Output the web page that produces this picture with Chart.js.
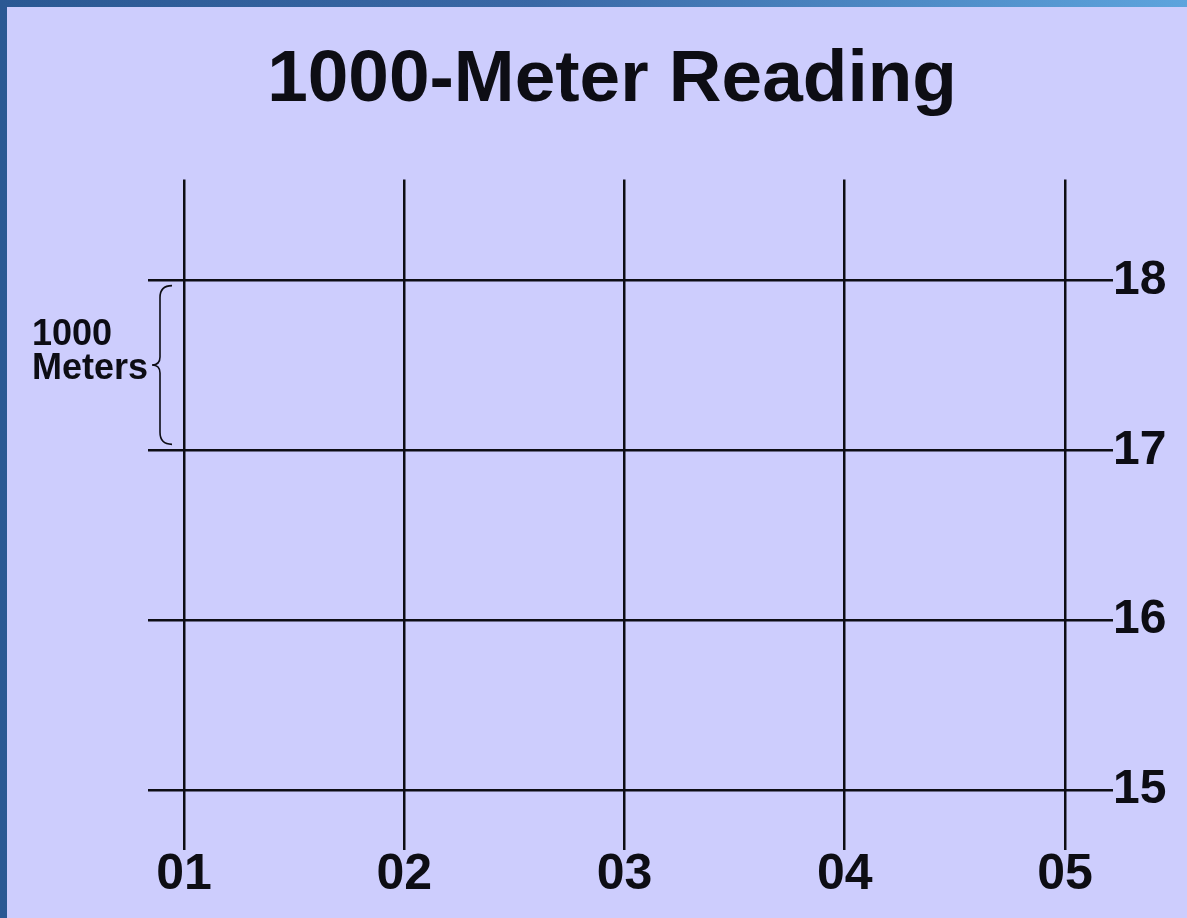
<!DOCTYPE html>
<html>
<head>
<meta charset="utf-8">
<script src="https://cdn.jsdelivr.net/npm/chart.js@4.4.1/dist/chart.umd.min.js"></script>
<style>
  html, body { margin: 0; padding: 0; }
  body {
    width: 1187px; height: 918px; overflow: hidden;
    background: linear-gradient(90deg, #2a5893 0%, #3a68a6 45%, #5da4dd 100%);
    position: relative;
  }
  #panel {
    position: absolute; left: 7px; top: 7px; width: 1180px; height: 911px;
    background: #cdcdfd;
  }
</style>
</head>
<body>
<div id="panel"><canvas id="canvas" width="1180" height="911"></canvas></div>
<script>
// lineas de la cuadricula (kilometros)
var eastings = [1, 2, 3, 4, 5];
var northings = [15, 16, 17, 18];
var eastingLabels = ['01', '02', '03', '04', '05'];
var northingLabels = ['15', '16', '17', '18'];
var titulo = '1000-Meter Reading';
var textoLlave = ['1000', 'Meters'];

var negro = '#0d0d14';
var fuente = '"Liberation Sans", Arial, Helvetica, sans-serif';

// llave "1000 Meters" entre la linea 17 y la 18
var llavePlugin = {
  id: 'llave',
  afterDraw: function(chart) {
    var ctx = chart.ctx;
    var y = chart.scales.y;
    var left = chart.chartArea.left;
    var top = y.getPixelForValue(18) + 5;
    var bottom = y.getPixelForValue(17) - 6;
    var mid = (top + bottom) / 2;
    var spine = left + 12, curl = left + 24, tip = left + 4;
    ctx.save();
    ctx.strokeStyle = negro;
    ctx.lineWidth = 1.6;
    ctx.beginPath();
    ctx.moveTo(curl, top);
    ctx.quadraticCurveTo(spine, top, spine, top + 12);
    ctx.lineTo(spine, mid - 8);
    ctx.quadraticCurveTo(spine, mid, tip, mid);
    ctx.quadraticCurveTo(spine, mid, spine, mid + 8);
    ctx.lineTo(spine, bottom - 12);
    ctx.quadraticCurveTo(spine, bottom, curl, bottom);
    ctx.stroke();
    ctx.fillStyle = negro;
    ctx.font = 'bold 36px ' + fuente;
    ctx.textAlign = 'left';
    ctx.textBaseline = 'alphabetic';
    ctx.fillText(textoLlave[0], 25, mid - 20);
    ctx.fillText(textoLlave[1], 25, mid + 14);
    ctx.restore();
  }
};

var ctx = document.getElementById('canvas').getContext('2d');
window.myChart = new Chart(ctx, {
  type: 'scatter',
  data: { datasets: [] },
  plugins: [llavePlugin],
  options: {
    responsive: false,
    animation: false,
    layout: { padding: { left: 30, right: 0, top: 0, bottom: 0 } },
    plugins: {
      legend: { display: false },
      tooltip: { enabled: false },
      title: {
        display: true,
        text: titulo,
        color: negro,
        font: { family: fuente, size: 73, weight: 'bold' },
        padding: { top: 30, bottom: 55 }
      }
    },
    scales: {
      x: {
        type: 'linear',
        min: 0.8366,
        max: 5.218,
        afterBuildTicks: function(s) { s.ticks = eastings.map(function(v) { return { value: v }; }); },
        afterFit: function(s) { s.height = 68; },
        border: { display: false },
        grid: { color: negro, lineWidth: 2.5, drawTicks: false },
        ticks: {
          color: negro,
          padding: -5,
          font: { family: fuente, size: 50, weight: 'bold' },
          callback: function(v) { return eastingLabels[eastings.indexOf(v)]; }
        }
      },
      yLeft: {
        type: 'linear',
        position: 'left',
        min: 0, max: 1,
        afterFit: function(s) { s.width = 111; },
        border: { display: false },
        grid: { display: false },
        ticks: { display: false }
      },
      y: {
        type: 'linear',
        position: 'right',
        min: 14.646,
        max: 18.595,
        afterBuildTicks: function(s) { s.ticks = northings.map(function(v) { return { value: v }; }); },
        afterFit: function(s) { s.width = 74; },
        border: { display: false },
        grid: { color: negro, lineWidth: 2.5, drawTicks: false },
        ticks: {
          color: negro,
          padding: 0,
          font: { family: fuente, size: 48, weight: 'bold' },
          callback: function(v) { return northingLabels[northings.indexOf(v)]; }
        }
      }
    }
  }
});
</script>
</body>
</html>
